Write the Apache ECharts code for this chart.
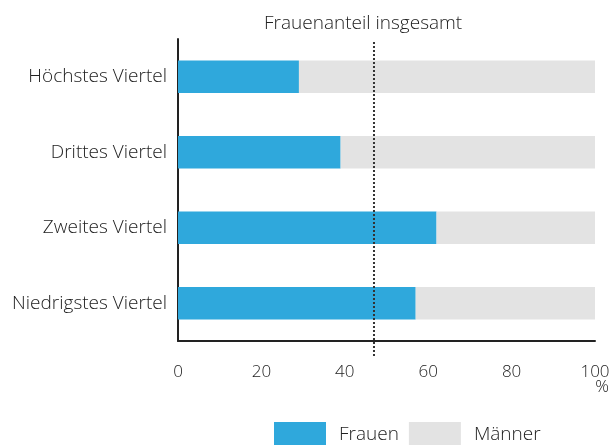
<!DOCTYPE html>
<html>
<head>
<meta charset="utf-8">
<script src="https://cdn.jsdelivr.net/npm/echarts@6/dist/echarts.min.js"></script>
<style>
  html, body { margin: 0; padding: 0; background: #fff; }
  #chart { width: 614px; height: 445px; }
</style>
</head>
<body>
<div id="chart"></div>
<script>
var categories = ['Höchstes Viertel', 'Drittes Viertel', 'Zweites Viertel', 'Niedrigstes Viertel']
var frauen = [29, 39, 62, 57]
var maenner = [71, 61, 38, 43]
var frauenanteilGesamt = 47
var xTicks = [0, 20, 40, 60, 80, 100]

var font = 'Open Sans'
var chart = echarts.init(document.getElementById('chart'))

chart.setOption({
  animation: false,
  title: {
    text: 'Frauenanteil insgesamt',
    left: 259,
    top: 9,
    textStyle: { fontFamily: font, fontWeight: 300, fontSize: 19, color: '#222' }
  },
  legend: {
    data: ['Frauen', 'Männer'],
    left: 274,
    top: 422,
    padding: 0,
    itemWidth: 52,
    itemHeight: 26,
    itemGap: 10,
    icon: 'rect',
    textStyle: { fontFamily: font, fontWeight: 300, fontSize: 19, color: '#222', padding: [0, 0, 0, 8] }
  },
  grid: { left: 178, right: 19, top: 39, bottom: 104, containLabel: false, outerBoundsMode: 'none' },
  xAxis: {
    type: 'value',
    min: xTicks[0],
    max: xTicks[xTicks.length - 1],
    interval: 20,
    axisLine: { show: true, lineStyle: { color: '#222', width: 2 } },
    axisTick: { show: false },
    splitLine: { show: false },
    axisLabel: { fontFamily: font, fontWeight: 300, fontSize: 17, color: '#222', margin: 23 }
  },
  yAxis: {
    type: 'category',
    data: categories,
    inverse: true,
    axisLine: { show: true, lineStyle: { color: '#222', width: 2 } },
    axisTick: { show: false },
    axisLabel: { fontFamily: font, fontWeight: 300, fontSize: 19, color: '#222', margin: 11 }
  },
  series: [
    {
      name: 'Frauen',
      type: 'bar',
      stack: 'total',
      barWidth: '43%',
      itemStyle: { color: '#2fa8dc' },
      data: frauen
    },
    {
      name: 'Männer',
      type: 'bar',
      stack: 'total',
      barWidth: '43%',
      itemStyle: { color: '#e3e3e3' },
      data: maenner
    }
  ]
})

// dotted total line reaches a bit below the axis, so draw it as graphic; unit sits under the 100
var lineX = chart.convertToPixel({ xAxisIndex: 0 }, frauenanteilGesamt)
var endX = chart.convertToPixel({ xAxisIndex: 0 }, xTicks[xTicks.length - 1])
chart.setOption({
  graphic: [
    {
      type: 'line',
      shape: { x1: lineX, y1: 42, x2: lineX, y2: 358 },
      style: { stroke: '#333', lineWidth: 2, lineDash: [2, 2] },
      z: 10
    },
    {
      type: 'text',
      x: endX + 14,
      y: 379,
      style: { text: '%', fontFamily: font, fontWeight: 300, fontSize: 17, fill: '#222', align: 'right', verticalAlign: 'top' }
    }
  ]
})
</script>
</body>
</html>
